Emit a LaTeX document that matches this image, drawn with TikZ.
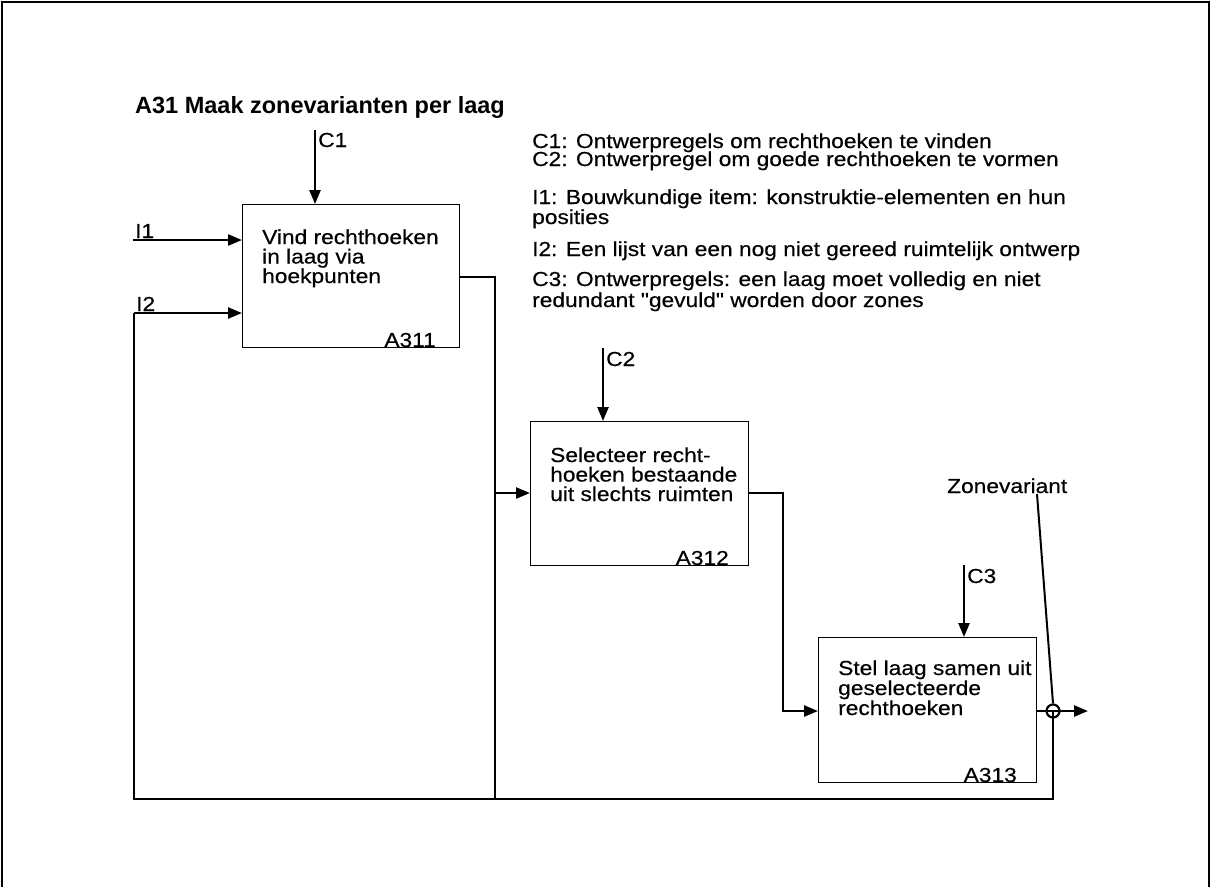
\documentclass[tikz,border=0pt]{standalone}
\usepackage{fontspec}
\setmainfont{Liberation Sans}
\newfontfamily\bodyf{Liberation Sans}[FakeStretch=1.12,FakeBold=0.4]
\usetikzlibrary{arrows.meta}
\begin{document}
\begin{tikzpicture}[x=1pt,y=-1pt,
  box/.style={draw, line width=1pt, inner sep=0pt, anchor=north west},
  txt/.style={font=\bodyf\fontsize{20.3}{20}\selectfont, inner sep=0pt, anchor=base west},
  lbl/.style={font=\bodyf\fontsize{20.3}{20}\selectfont, inner sep=0pt, anchor=base east},
  conn/.style={line width=2.5pt, line join=miter},
  arr/.style={conn, -{Triangle[length=14pt,width=11pt]}},
  frame/.style={line width=2.2pt}]
\useasboundingbox (0,0) rectangle (1211,887);
\draw[frame] (2,887) -- (2,2) -- (1209,2) -- (1209,887);

% title
\node[font=\bfseries\fontsize{23.5}{24}\selectfont, anchor=base west, inner sep=0pt] (title) at (135,113.5) {A31 Maak zonevarianten per laag};

% legend
\node[txt] (lg1) at (532,148) {C1: Ontwerpregels om rechthoeken te vinden};
\node[txt] (lg2) at (532,166) {C2: Ontwerpregel om goede rechthoeken te vormen};
\node[txt] (lg3) at (532,204) {I1: Bouwkundige item: konstruktie-elementen en hun};
\node[txt] (lg4) at (532,224) {posities};
\node[txt] (lg5) at (532,256) {I2: Een lijst van een nog niet gereed ruimtelijk ontwerp};
\node[txt] (lg6) at (532,286) {C3: Ontwerpregels: een laag moet volledig en niet};
\node[txt] (lg7) at (532,307) {redundant "gevuld" worden door zones};

% boxes
\node[box, minimum width=217pt, minimum height=143pt] (A311) at (242,204) {};
\node[box, minimum width=218pt, minimum height=144pt] (A312) at (530,421) {};
\node[box, minimum width=218pt, minimum height=145pt] (A313) at (818,637) {};

\node[txt] (a1t1) at (262,244) {Vind rechthoeken};
\node[txt] (a1t2) at (262,263.5) {in laag via};
\node[txt] (a1t3) at (262,283) {hoekpunten};
\node[lbl] (a1n) at ([xshift=-24pt,yshift=1pt]A311.south east) {A311};

\node[txt] (a2t1) at (550,462) {Selecteer recht-};
\node[txt] (a2t2) at (550,481.5) {hoeken bestaande};
\node[txt] (a2t3) at (550,501) {uit slechts ruimten};
\node[lbl] (a2n) at ([xshift=-20pt,yshift=1pt]A312.south east) {A312};

\node[txt] (a3t1) at (838,675) {Stel laag samen uit};
\node[txt] (a3t2) at (838,695) {geselecteerde};
\node[txt] (a3t3) at (838,715) {rechthoeken};
\node[lbl] (a3n) at ([xshift=-20pt,yshift=1pt]A313.south east) {A313};

% controls
\coordinate (c1top) at (315,130);
\draw[arr] (c1top) -- (c1top |- A311.north);
\node[txt] (c1l) at (318,147) {C1};
\coordinate (c2top) at (603,348);
\draw[arr] (c2top) -- (c2top |- A312.north);
\node[txt] (c2l) at (606,366) {C2};
\coordinate (c3top) at (964,565);
\draw[arr] (c3top) -- (c3top |- A313.north);
\node[txt] (c3l) at (967,583) {C3};

% inputs
\coordinate (i1s) at (133,240);
\draw[arr] (i1s) -- (i1s -| A311.west);
\node[txt] (i1l) at (135,238) {I1};
\coordinate (i2s) at (134,313);
\draw[arr] (i2s) -- (i2s -| A311.west);
\node[txt] (i2l) at (136,311) {I2};

% junction circle and output
\node[circle, draw, line width=2.2pt, minimum size=13pt, inner sep=0pt] (zc) at (1053,711) {};
\coordinate (out) at (1088,711);
\draw[arr] (A313.east |- zc) -- (out);
\coordinate (br) at (1053,799);
\coordinate (bl) at (134,799);
\draw[conn] (zc.center) -- (br) -- (bl) -- (i2s);
\node[txt] (zvl) at (947,493) {Zonevariant};
\coordinate (zv) at (1037,494);
\draw[line width=2pt] (zv) -- (zc.north);

% A311 output
\coordinate (o1) at (495,277);
\draw[conn] (A311.east |- o1) -- (o1) -- (o1 |- bl);
\coordinate (j2) at (495,493);
\draw[arr] (j2) -- (j2 -| A312.west);

% A312 output
\coordinate (o2) at (783,493);
\coordinate (m3) at (783,711);
\draw[arr] (A312.east |- o2) -- (o2) -- (m3) -- (m3 -| A313.west);
\end{tikzpicture}
\end{document}
